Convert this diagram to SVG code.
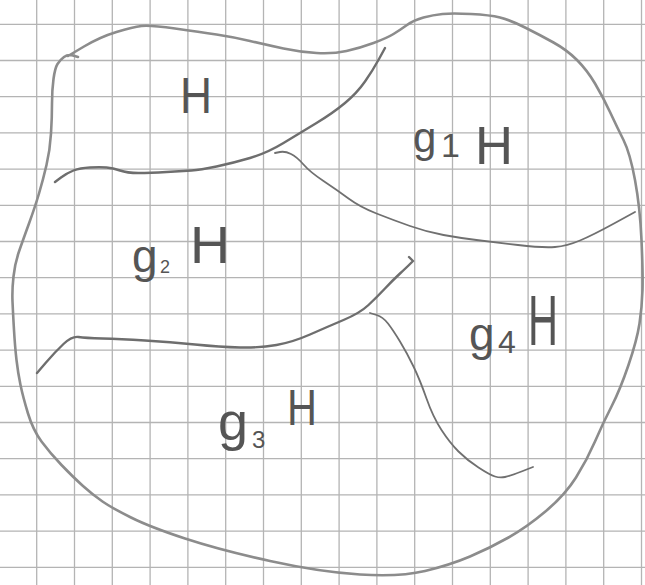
<svg xmlns="http://www.w3.org/2000/svg" width="645" height="585" viewBox="0 0 645 585">
<style>
.grid{stroke:#b4b4b4;stroke-width:1.3;fill:none}
.outer{stroke:#8c8c8c;stroke-width:2.6;fill:none;stroke-linecap:round;stroke-linejoin:round}
.inner{stroke:#6e6e6e;stroke-width:2.4;fill:none;stroke-linecap:round;stroke-linejoin:round}
.thin{stroke:#707070;stroke-width:1.8;fill:none;stroke-linecap:round;stroke-linejoin:round}
text{font-family:"Liberation Sans","DejaVu Sans",sans-serif;fill:#555}
</style>
<rect width="645" height="585" fill="#ffffff"/>
<g id="grid">
<path class="grid" d="M36.7,0V585M74.5,0V585M112.3,0V585M150.1,0V585M187.9,0V585M225.7,0V585M263.5,0V585M301.3,0V585M339.1,0V585M376.9,0V585M414.7,0V585M452.5,0V585M490.3,0V585M528.1,0V585M565.9,0V585M603.7,0V585M641.5,0V585"/>
<path class="grid" d="M0,24.3H645M0,60.5H645M0,96.7H645M0,132.9H645M0,169.1H645M0,205.3H645M0,241.5H645M0,277.7H645M0,313.9H645M0,350.1H645M0,386.3H645M0,422.5H645M0,458.7H645M0,494.9H645M0,531.1H645M0,567.3H645"/>
</g>
<g id="group-outline">
<path class="outer" d="M78,57 L73,55.5 Q68,54 64,57 Q60,60 57.5,64 Q55,68 53.5,79 Q52,90 52,103.5 Q52,117 51,133.5 Q50,150 46.5,165 Q43,180 39,193.5 Q35,207 29,223.5 Q23,240 19,251.5 Q15,263 13.5,276.5 Q12,290 12.5,301.5 Q13,313 14,330 Q15,347 16.5,360 Q18,373 20.5,385 Q23,397 28,413.5 Q33,430 41.5,441.5 Q50,453 61.5,465 Q73,477 83,486 Q93,495 102.5,501.5 Q112,508 131,517.5 Q150,527 185,538.5 Q220,550 270,561 Q320,572 360,574.5 Q400,577 425,571 Q450,565 470,556.5 Q490,548 508.5,537.5 Q527,527 546,511 Q565,495 576,477.5 Q587,460 595,441.5 Q603,423 611.5,406.5 Q620,390 628.5,365 Q637,340 639.5,323.5 Q642,307 642.5,290 Q643,273 641.5,240 Q640,207 635,180 Q630,153 623.5,140 Q617,127 610,112 Q603,97 595,83.5 Q587,70 577,60 Q567,50 553.5,42.5 Q540,35 525,27.5 Q510,20 500,17.5 Q490,15 471,14 Q452,13 442.5,14 Q433,15 423.5,17.5 Q414,20 407,25 Q400,30 393.5,34 Q387,38 373.5,43 Q360,48 346.5,51 Q333,54 316.5,53 Q300,52 283.5,48.5 Q267,45 250,41 Q233,37 216.5,34.5 Q200,32 175,28.5 Q150,25 141.5,26 Q133,27 116.5,32 Q100,37 84,46.5 L68,56"/>
</g>
<g id="boundaries">
<path id="b-H" class="inner" d="M55,182 L61,177.5 Q67,173 73.5,170.5 Q80,168 90,167.5 Q100,167 106.5,167.5 Q113,168 120,170.5 Q127,173 138.5,173 Q150,173 166.5,172 Q183,171 191.5,170.5 Q200,170 216.5,166.5 Q233,163 250,158 Q267,153 283.5,143 Q300,133 316.5,123 Q333,113 345,103 Q357,93 365,81.5 Q373,70 379,59 L385,48"/>
<path id="b-g1" class="thin" d="M275,153 L280,152 Q285,151 291,154 Q297,157 303.5,164.5 Q310,172 323.5,181 Q337,190 348.5,198.5 Q360,207 376.5,213.5 Q393,220 410,226 Q427,232 443.5,235 Q460,238 476.5,240 Q493,242 518,245 Q543,248 555,247 Q567,246 580,240.5 Q593,235 614,223.5 L635,212"/>
<path id="b-g3" class="inner" d="M37,373 L46,362.5 Q55,352 63.5,344 Q72,336 78.5,337 Q85,338 102.5,338.5 Q120,339 145,340.5 Q170,342 195,344.5 Q220,347 240,347.5 Q260,348 276.5,345 Q293,342 310,334.5 Q327,327 343.5,320 Q360,313 368.5,305 Q377,297 385,288.5 Q393,280 400,273.5 Q407,267 410,264 L413,261 L409,257"/>
<path id="b-g4" class="thin" d="M370,313 L376.5,315 Q383,317 388,323.5 Q393,330 400,341.5 Q407,353 413.5,366.5 Q420,380 426.5,398.5 Q433,417 441.5,430 Q450,443 458.5,451.5 Q467,460 478.5,467.5 Q490,475 495,476.5 Q500,478 505,477 Q510,476 521.5,471.5 L533,467"/>
</g>
<g id="coset-H">
<text x="180" y="113" font-size="50" textLength="32" lengthAdjust="spacingAndGlyphs">H</text>
</g>
<g id="coset-g1H">
<text x="413" y="152" font-size="42">g</text>
<text x="441" y="157" font-size="34">1</text>
<text x="475" y="164" font-size="54" textLength="38" lengthAdjust="spacingAndGlyphs">H</text>
</g>
<g id="coset-g2H">
<text x="132" y="272" font-size="46">g</text>
<text x="160" y="273" font-size="18">2</text>
<text x="190" y="263" font-size="52" textLength="40" lengthAdjust="spacingAndGlyphs">H</text>
</g>
<g id="coset-g3H">
<text x="218" y="440" font-size="54">g</text>
<text x="252" y="448" font-size="24">3</text>
<text x="287" y="425" font-size="50" textLength="30" lengthAdjust="spacingAndGlyphs">H</text>
</g>
<g id="coset-g4H">
<text x="469" y="350" font-size="46">g</text>
<text x="498" y="353" font-size="32">4</text>
<text x="528" y="345" font-size="70" textLength="30" lengthAdjust="spacingAndGlyphs">H</text>
</g>
</svg>
